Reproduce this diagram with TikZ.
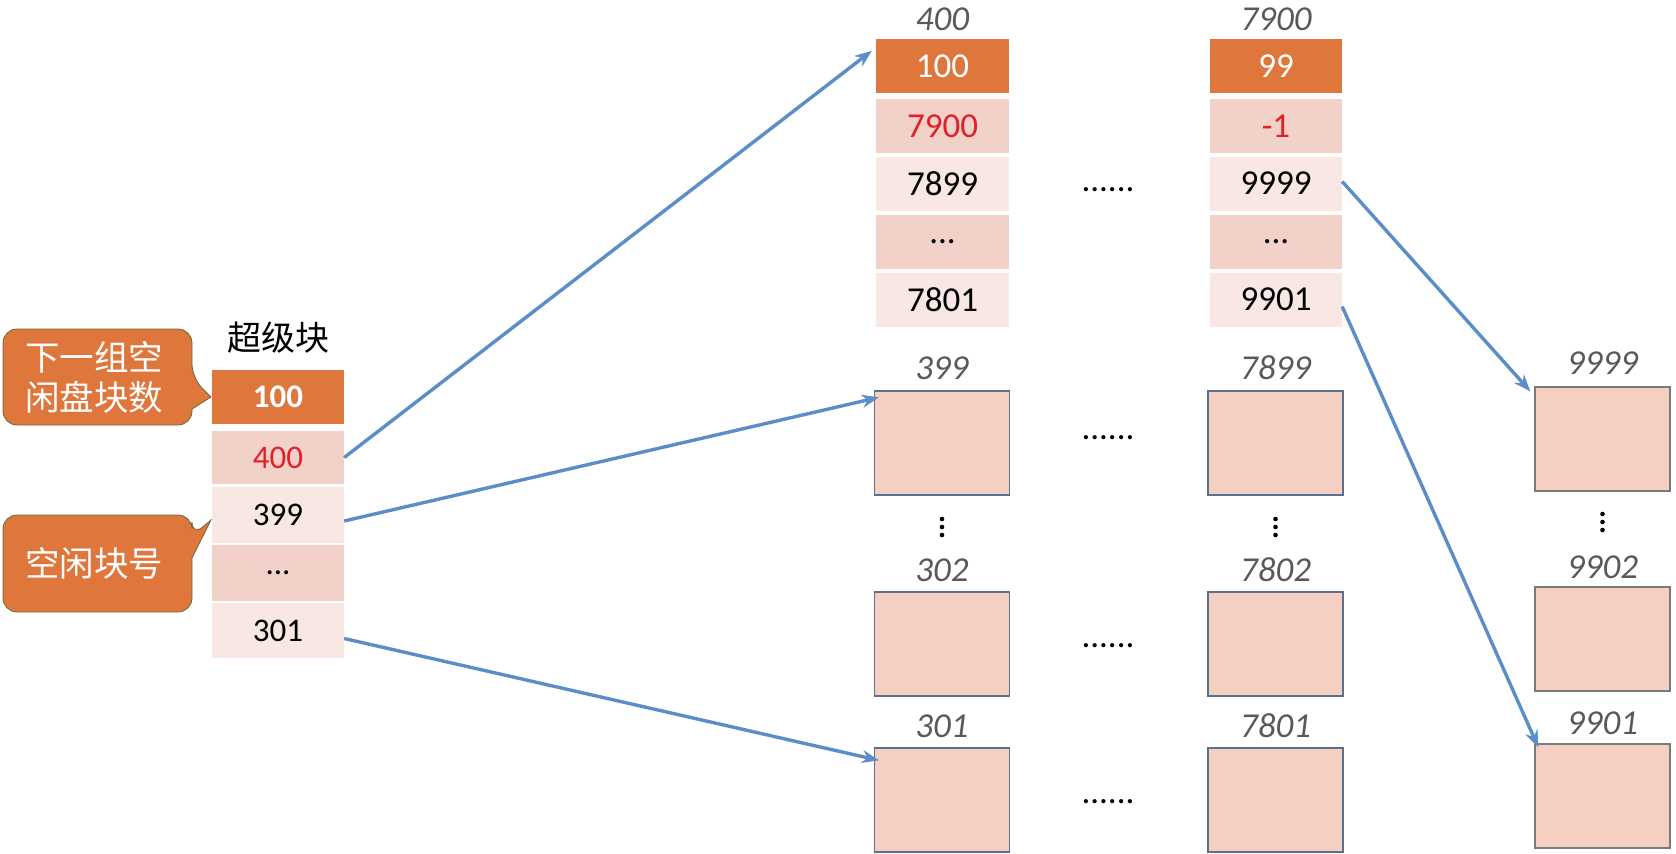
\documentclass[tikz,border=0pt]{standalone}
\usepackage{fontspec}
\setmainfont{Carlito}
\newfontfamily\cjk{Noto Sans CJK SC}
\usetikzlibrary{arrows.meta,calc}
\definecolor{org}{HTML}{DF763C}
\definecolor{pkd}{HTML}{F2D1C9}
\definecolor{pkl}{HTML}{F8E7E3}
\definecolor{boxf}{HTML}{F6CFC3}
\definecolor{boxd}{HTML}{5A7090}
\definecolor{arr}{HTML}{5B8DC8}
\definecolor{redt}{HTML}{E0202A}
\definecolor{grayt}{HTML}{595959}
\definecolor{calb}{HTML}{6E6A35}
\tikzset{
  cell/.style={minimum width=132pt, minimum height=54pt, inner sep=0pt, font=\fontsize{35}{35}\selectfont},
  scell/.style={font=\fontsize{33}{33}\selectfont},
  hdcell/.style={cell, fill=org, text=white},
  dkcell/.style={cell, fill=pkd},
  ltcell/.style={cell, fill=pkl},
  blk/.style={draw=boxd, line width=1.3pt, fill=boxf, minimum width=135pt, minimum height=104pt, inner sep=0pt},
  lab/.style={font=\fontsize{35}{35}\selectfont\itshape, text=grayt, inner sep=0pt},
  hdots/.style={font=\fontsize{35}{35}\selectfont, inner sep=0pt},
  callout/.style={fill=org, draw=calb, line width=0.8pt},
  caltext/.style={font=\cjk\fontsize{34.5}{40}\selectfont, text=white, align=center, inner sep=0pt},
  link/.style={draw=arr, line width=3.4pt, -{Stealth[length=17pt,width=13pt]}},
}
\begin{document}
\begin{tikzpicture}[x=1pt,y=-1pt]
\useasboundingbox (0,0) rectangle (1676,854);

% callouts
\draw[callout] (100,329) [rounded corners=14pt] -- (192,329) -- (192,378) [sharp corners] -- (211,397) -- (192,409) [rounded corners=14pt] -- (192,425) -- (3,425) -- (3,329) -- cycle;
\node[caltext] (c1t) at (94,377) {下一组空\\闲盘块数};
\draw[callout] (100,515) [rounded corners=14pt] -- (192,515) -- (192,536) [sharp corners] -- (211,520) -- (192,558) [rounded corners=14pt] -- (192,612) -- (3,612) -- (3,515) -- cycle;
\node[caltext] (c2t) at (94,563) {空闲块号};

% superblock
\node[font=\cjk\fontsize{34}{34}\selectfont, inner sep=0pt] (stitle) at (278,338) {超级块};
\node[hdcell, font=\fontsize{33}{33}\selectfont\bfseries] (s1) at (278,397) {100};
\node[dkcell, scell, minimum height=53pt, text=redt] (s2) at (278,457.5) {400};
\node[ltcell, scell, minimum height=56pt] (s3) at (278,515) {399};
\node[dkcell, scell, minimum height=56pt] (s4) at (278,573) {...};
\node[ltcell, scell, minimum height=55pt] (s5) at (278,630.5) {301};

% column 400
\node[lab] (la) at (942.5,19) {400};
\node[hdcell, minimum width=133pt] (a1) at (942.5,66) {100};
\node[dkcell, minimum width=133pt, text=redt] (a2) at (942.5,126) {7900};
\node[ltcell, minimum width=133pt] (a3) at (942.5,183.5) {7899};
\node[dkcell, minimum width=133pt] (a4) at (942.5,241.5) {...};
\node[ltcell, minimum width=133pt] (a5) at (942.5,299.5) {7801};

% column 7900
\node[lab] (lb) at (1276,19) {7900};
\node[hdcell] (b1) at (1276,66) {99};
\node[dkcell, text=redt] (b2) at (1276,126) {-1};
\node[ltcell] (b3) at (1276,183.5) {9999};
\node[dkcell] (b4) at (1276,241.5) {...};
\node[ltcell] (b5) at (1276,299.5) {9901};

\node[hdots] (d0) at (1108,190) {......};

% blocks column A
\node[lab] (l399) at (942,368) {399};
\node[blk] (ka1) at (942,443) {};
\node[lab] (l302) at (942,570) {302};
\node[blk] (ka2) at (942,644) {};
\node[lab] (l301) at (942,726) {301};
\node[blk] (ka3) at (942,800) {};

% blocks column B
\node[lab] (l7899) at (1275.5,368) {7899};
\node[blk] (kb1) at (1275.5,443) {};
\node[lab] (l7802) at (1275.5,570) {7802};
\node[blk] (kb2) at (1275.5,644) {};
\node[lab] (l7801) at (1275.5,726) {7801};
\node[blk] (kb3) at (1275.5,800) {};

% blocks column C
\node[lab] (l9999) at (1602.5,363) {9999};
\node[blk, draw=grayt!80] (kc1) at (1602.5,439) {};
\node[lab] (l9902) at (1602.5,567) {9902};
\node[blk, draw=grayt!80] (kc2) at (1602.5,639) {};
\node[lab] (l9901) at (1602.5,723) {9901};
\node[blk, draw=grayt!80] (kc3) at (1602.5,796) {};

% horizontal dots
\node[hdots] (d1) at (1108,438) {......};
\node[hdots] (d2) at (1108,646) {......};
\node[hdots] (d3) at (1108,802) {......};

% vertical dots
\foreach \x/\y in {942/527, 1275.5/527, 1602.5/522} {
  \fill (\x,\y-8) circle (2.3pt);
  \fill (\x,\y) circle (2.3pt);
  \fill (\x,\y+8) circle (2.3pt);
}

% connectors
\draw[link] (s2.east) -- ([xshift=-4pt,yshift=-12pt]a1.north west);
\draw[link] ([yshift=-6pt]s3.east) -- ([xshift=5pt,yshift=-7pt]ka1.north west);
\draw[link] ([yshift=-8pt]s5.east) -- ([xshift=5pt,yshift=-13pt]ka3.north west);
\draw[link] ([yshift=2pt]b3.east) -- ([xshift=-4pt,yshift=-5pt]kc1.north west);
\draw[link] ([yshift=-7pt]b5.east) -- ([xshift=4pt,yshift=-4pt]kc3.north west);
\end{tikzpicture}
\end{document}
